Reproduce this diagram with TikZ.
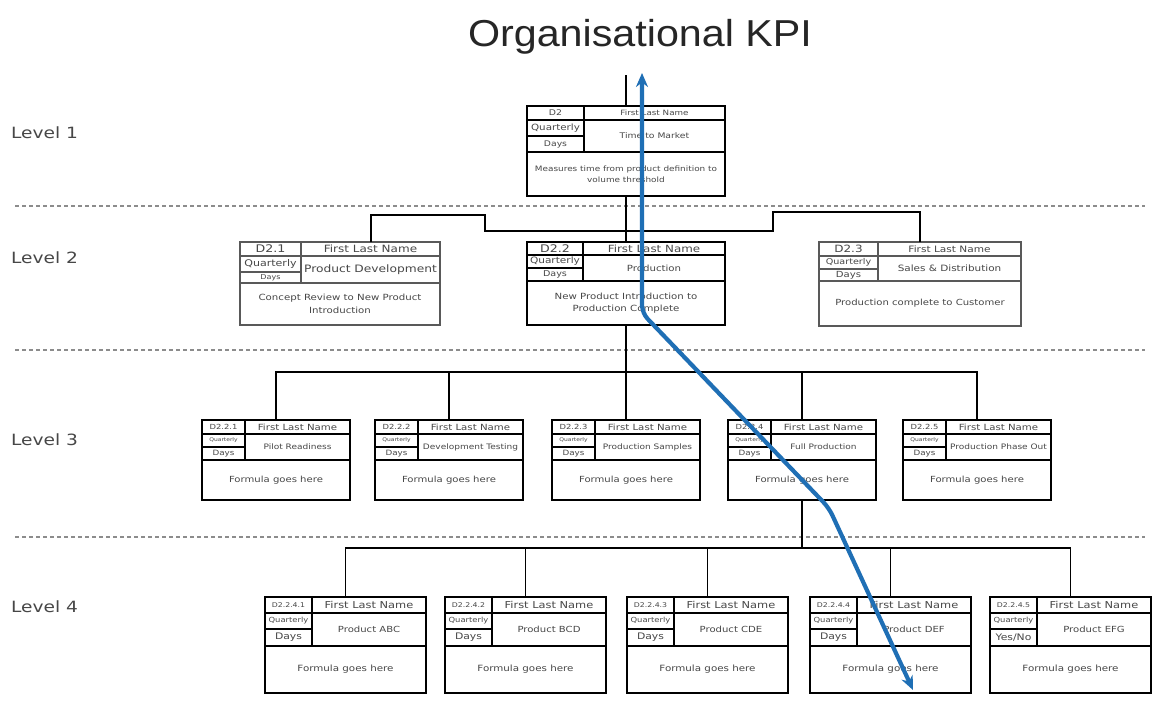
\documentclass[tikz,border=0pt]{standalone}
\usepackage{fontspec}
\setmainfont{DejaVu Sans}[FakeStretch=1.2]
\newfontfamily\titlefont{Liberation Sans}[FakeStretch=1.1]
\usetikzlibrary{arrows.meta,calc}

\definecolor{blueflow}{HTML}{1F6FB5}
\colorlet{kcol}{black}

% box geometry: width, height, row-1 bottom, period/unit split, row-2 bottom, left column width
\newcommand{\kpigeom}[6]{\def\kw{#1}\def\kh{#2}\def\kra{#3}\def\krq{#4}\def\krb{#5}\def\kcw{#6}}

% font sizes of the cells: code, owner, period, unit, title, description, description line skip
\newcommand{\kfonts}[7]{%
  \tikzset{
    codetxt/.style={font=\fontsize{#1}{#1}\selectfont},
    nametxt/.style={font=\fontsize{#2}{#2}\selectfont},
    pertxt/.style={font=\fontsize{#3}{#3}\selectfont},
    unittxt/.style={font=\fontsize{#4}{#4}\selectfont},
    titletxt/.style={font=\fontsize{#5}{#5}\selectfont},
    desctxt/.style={font=\fontsize{#6}{#7}\selectfont}}}

% one KPI card: name, x, y (north-west corner), code, owner, period, unit, title, description
\newcommand{\kpibox}[9]{%
  \node[kbox, minimum width=\kw*1pt, minimum height=\kh*1pt, anchor=north west] (#1) at (#2,#3) {};
  \draw[kline] ($(#1.north west)+(0,\kra)$) -- ($(#1.north east)+(0,\kra)$);
  \draw[kline] ($(#1.north west)+(0,\krb)$) -- ($(#1.north east)+(0,\krb)$);
  \draw[kline] ($(#1.north west)+(\kcw,0)$) -- ($(#1.north west)+(\kcw,\krb)$);
  \draw[kline] ($(#1.north west)+(0,\krq)$) -- ($(#1.north west)+(\kcw,\krq)$);
  \node[ktext, codetxt]  (#1-code)  at ($(#1.north west)+(\kcw/2,\kra/2)$) {#4};
  \node[ktext, nametxt]  (#1-owner) at ($(#1.north west)+({(\kcw+\kw)/2},\kra/2)$) {#5};
  \node[ktext, pertxt]   (#1-per)   at ($(#1.north west)+(\kcw/2,{(\kra+\krq)/2})$) {#6};
  \node[ktext, unittxt]  (#1-unit)  at ($(#1.north west)+(\kcw/2,{(\krq+\krb)/2})$) {#7};
  \node[ktext, titletxt] (#1-title) at ($(#1.north west)+({(\kcw+\kw)/2},{(\kra+\krb)/2})$) {#8};
  \node[ktext, desctxt]  (#1-desc)  at ($(#1.north west)+(\kw/2,{(\krb+\kh)/2})$) {#9};
}

\tikzset{
  kbox/.style={draw=kcol, fill=white, line width=1.9pt, inner sep=0pt, outer sep=0pt},
  kline/.style={draw=kcol, line width=1.9pt},
  ktext/.style={inner sep=0pt, text=black!72, align=center},
  conn/.style={draw=black, line width=1.9pt},
  levelsep/.style={draw=black!45, line width=1.2pt, dash pattern=on 4pt off 3pt},
  levellabel/.style={anchor=west, inner sep=0pt, text=black!72, font=\fontsize{15.5}{18}\selectfont},
  flow/.style={draw=blueflow, line width=4.2pt, rounded corners=8pt,
    {Stealth[length=14pt,width=12pt]}-{Stealth[length=14pt,width=12pt]}},
}

\begin{document}
\begin{tikzpicture}[x=1pt,y=-1pt]
\fill[white] (0,0) rectangle (1153,702);
\useasboundingbox (0,0) rectangle (1153,702);

% heading and level names
\node[inner sep=0pt, text=black!85, font=\titlefont\fontsize{37.5}{40}\selectfont] (title) at (640,37) {Organisational KPI};
\node[levellabel] (lev1) at (11,133) {Level 1};
\node[levellabel] (lev2) at (11,258) {Level 2};
\node[levellabel] (lev3) at (11,440) {Level 3};
\node[levellabel] (lev4) at (11,607) {Level 4};

% level separators
\draw[levelsep] (15,206) -- (1145,206);
\draw[levelsep] (15,350) -- (1145,350);
\draw[levelsep] (15,537) -- (1145,537);

% ---------- level 1
\kpigeom{198}{90}{14}{30}{46}{57}
\kfonts{7.8}{7.3}{8.6}{7.7}{7.7}{7.4}{11}
\kpibox{L1}{527}{106}{D2}{First Last Name}{Quarterly}{Days}{Time to Market}{Measures time from product definition to\\volume threshold}

% ---------- level 2
\colorlet{kcol}{black!65}
\kpigeom{200}{83}{14}{30}{41}{61}
\kfonts{10.5}{10}{9.2}{6.7}{10.2}{8.5}{12.5}
\kpibox{L2a}{240}{242}{D2.1}{First Last Name}{Quarterly}{Days}{Product Development}{Concept Review to New Product\\Introduction}

\colorlet{kcol}{black}
\kpigeom{198}{83}{13}{26}{39}{56}
\kfonts{10.5}{9.9}{8.8}{8}{8.5}{8.5}{12.5}
\kpibox{L2b}{527}{242}{D2.2}{First Last Name}{Quarterly}{Days}{Production}{New Product Introduction to\\Production Complete}

\colorlet{kcol}{black!65}
\kpigeom{202}{84}{14}{27}{39}{59}
\kfonts{10}{8.8}{8}{8.4}{8.7}{8.4}{12}
\kpibox{L2c}{819}{242}{D2.3}{First Last Name}{Quarterly}{Days}{Sales \& Distribution}{Production complete to Customer}

% ---------- level 3
\colorlet{kcol}{black}
\kpigeom{148}{80}{14}{27}{40}{43}
\kfonts{7}{8.5}{5}{7.3}{7.5}{8.4}{10}
\kpibox{L3a}{202}{420}{D2.2.1}{First Last Name}{Quarterly}{Days}{Pilot Readiness}{Formula goes here}
\kpibox{L3b}{375}{420}{D2.2.2}{First Last Name}{Quarterly}{Days}{Development Testing}{Formula goes here}
\kpibox{L3c}{552}{420}{D2.2.3}{First Last Name}{Quarterly}{Days}{Production Samples}{Formula goes here}
\kpibox{L3d}{728}{420}{D2.2.4}{First Last Name}{Quarterly}{Days}{Full Production}{Formula goes here}
\kpibox{L3e}{903}{420}{D2.2.5}{First Last Name}{Quarterly}{Days}{Production Phase Out}{Formula goes here}

% ---------- level 4
\kpigeom{161}{96}{16}{32}{49}{47}
\kfonts{6.5}{9.5}{7}{9}{8.4}{8.6}{11}
\kpibox{L4a}{265}{597}{D2.2.4.1}{First Last Name}{Quarterly}{Days}{Product ABC}{Formula goes here}
\kpibox{L4b}{445}{597}{D2.2.4.2}{First Last Name}{Quarterly}{Days}{Product BCD}{Formula goes here}
\kpibox{L4c}{627}{597}{D2.2.4.3}{First Last Name}{Quarterly}{Days}{Product CDE}{Formula goes here}
\kpibox{L4d}{810}{597}{D2.2.4.4}{First Last Name}{Quarterly}{Days}{Product DEF}{Formula goes here}
\kpibox{L4e}{990}{597}{D2.2.4.5}{First Last Name}{Quarterly}{Yes/No}{Product EFG}{Formula goes here}

% ---------- connectors
\coordinate (L1up) at (626,75);
\draw[conn] (L1.north) -- (L1up);

\coordinate (j1) at (626,231);
\coordinate (L2adrop) at ($(L2a.north west)+(131,0)$);
\draw[conn] (L1.south) -- (L2b.north);
\draw[conn] (j1) -- (485,231) -- (485,215) -- (L2adrop |- 0,215) -- (L2adrop);
\draw[conn] (j1) -- (773,231) -- (773,212) -- (L2c.north |- 0,212) -- (L2c.north);

\coordinate (h3) at (0,372);
\draw[conn] (L2b.south) -- (L2b.south |- h3);
\draw[conn] (L3a.north) -- (L3a.north |- h3) -- (L3e.north |- h3) -- (L3e.north);
\foreach \n in {L3b,L3c,L3d}{\draw[conn] (\n.north) -- (\n.north |- h3);}

\coordinate (h4) at (0,548);
\draw[conn] (L3d.south) -- (L3d.south |- h4);
\draw[conn] (L4a.north) -- (L4a.north |- h4) -- (L4e.north |- h4) -- (L4e.north);
\foreach \n in {L4b,L4c,L4d}{\draw[conn] (\n.north) -- (\n.north |- h4);}

% ---------- roll-up path
\coordinate (flowTop) at (642,73);
\coordinate (flowBend1) at (642,313);
\coordinate (flowBend2) at (829,508);
\coordinate (flowEnd) at (913,690);
\draw[flow] (flowTop) -- (flowBend1) -- (flowBend2) -- (flowEnd);
\end{tikzpicture}
\end{document}
